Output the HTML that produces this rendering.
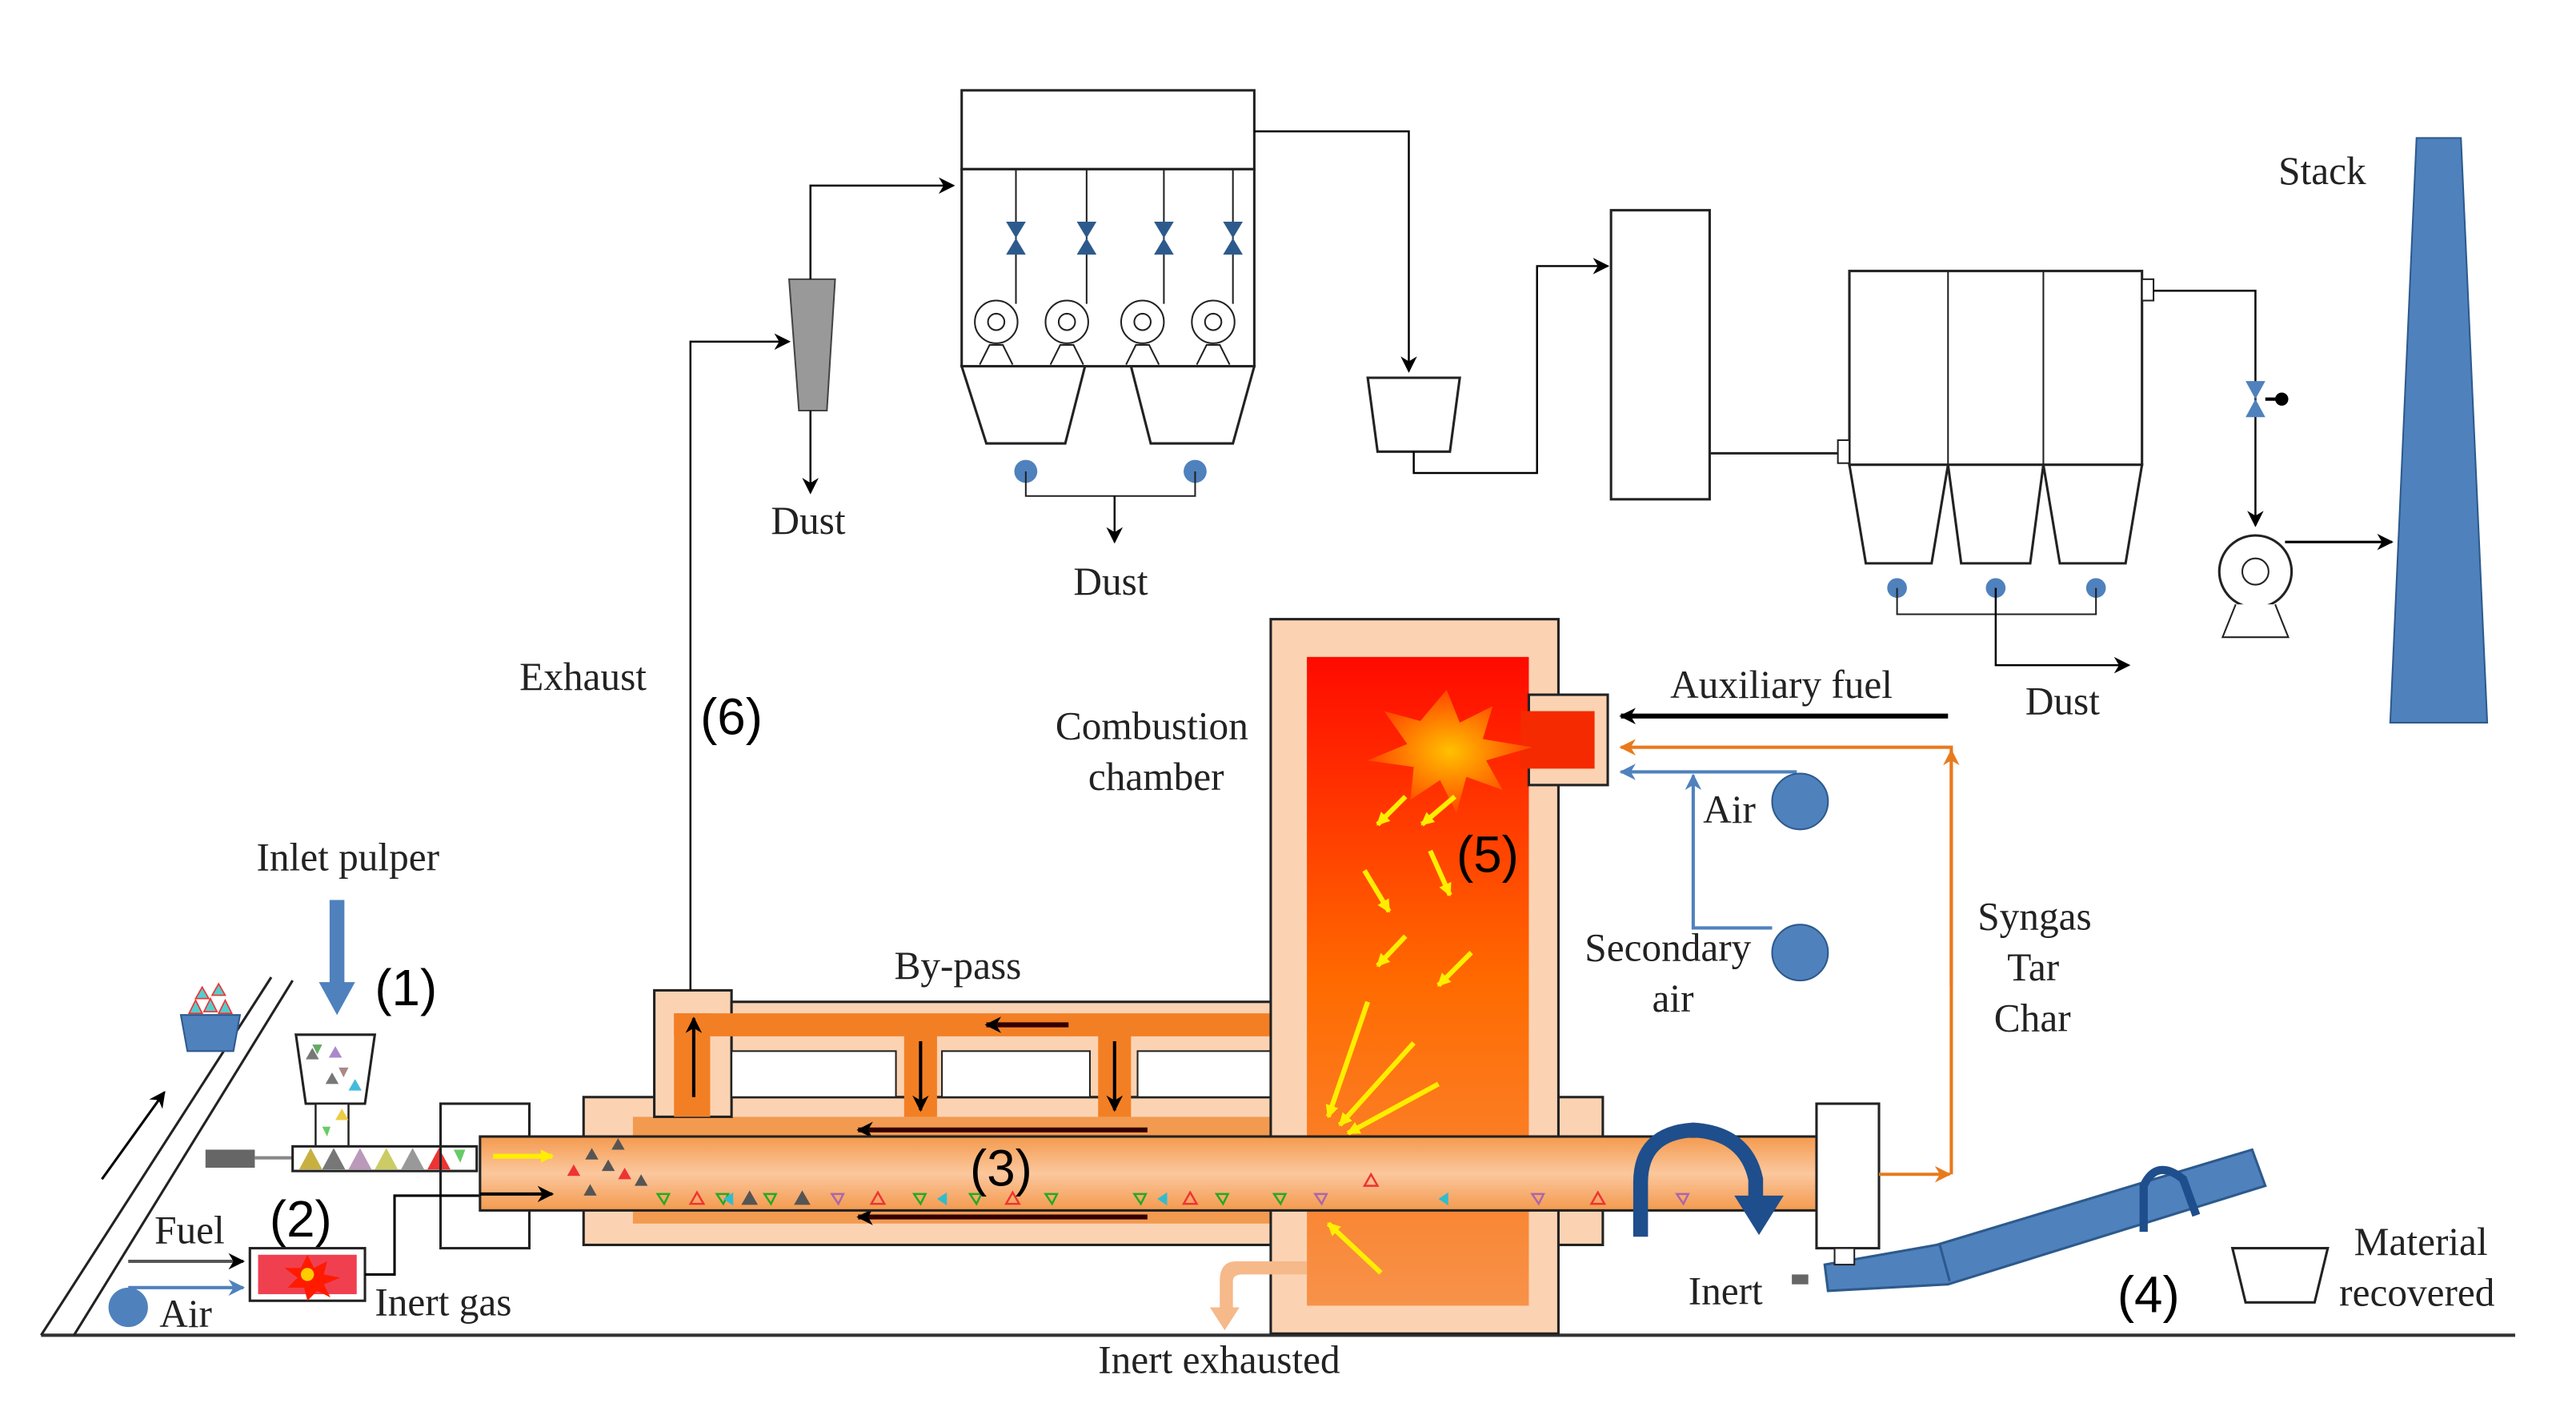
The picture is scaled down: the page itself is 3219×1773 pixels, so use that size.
<!DOCTYPE html>
<html><head><meta charset="utf-8"><style>
html,body{margin:0;padding:0;background:#fff}
svg{display:block}
text{font-family:"Liberation Serif",serif;font-size:24px;fill:#222}
.n{font-family:"Liberation Sans","DejaVu Sans",sans-serif;font-size:31px;fill:#000}
</style></head><body>
<svg width="3219" height="1773" viewBox="0 0 1567 864" preserveAspectRatio="none" xmlns="http://www.w3.org/2000/svg">
<defs>
<marker id="a" markerWidth="10" markerHeight="10" refX="9" refY="5" orient="auto" markerUnits="userSpaceOnUse"><path d="M0,0 L10,5 L0,10 L3,5z" fill="#000"/></marker>
<marker id="ao" markerWidth="10" markerHeight="10" refX="9" refY="5" orient="auto" markerUnits="userSpaceOnUse"><path d="M0,0 L10,5 L0,10 L3,5z" fill="#e87a1e"/></marker>
<marker id="ab" markerWidth="10" markerHeight="10" refX="9" refY="5" orient="auto" markerUnits="userSpaceOnUse"><path d="M0,0 L10,5 L0,10 L3,5z" fill="#4f81bd"/></marker>
<marker id="ay" markerWidth="8" markerHeight="8" refX="7" refY="4" orient="auto" markerUnits="userSpaceOnUse"><path d="M0,0 L8,4 L0,8z" fill="#ffee00"/></marker>
<linearGradient id="cc" x1="0" y1="0" x2="0" y2="1"><stop offset="0" stop-color="#ff0a00"/><stop offset="0.5" stop-color="#ff6a00"/><stop offset="1" stop-color="#f7924a"/></linearGradient>
<linearGradient id="dr" x1="0" y1="0" x2="0" y2="1"><stop offset="0" stop-color="#f49a4e"/><stop offset="0.5" stop-color="#fbc79d"/><stop offset="1" stop-color="#f49a4e"/></linearGradient>
<radialGradient id="fl"><stop offset="0" stop-color="#ffd200"/><stop offset="1" stop-color="#ff4a00"/></radialGradient>
</defs>

<line x1="25" y1="813" x2="1530" y2="813" stroke="#333" stroke-width="2"/>
<line x1="25" y1="813" x2="165" y2="595" stroke="#222" stroke-width="1.5"/>
<line x1="45" y1="813" x2="178" y2="597" stroke="#222" stroke-width="1.5"/>
<line x1="62" y1="718" x2="100" y2="665" stroke="#000" stroke-width="1.5" marker-end="url(#a)"/>
<path d="M110,618 L146,618 L142,640 L114,640z" fill="#4f81bd" stroke="#2d5a8c"/>
<path d="M115,617 l4,-8 l4,8z M124,616 l4,-8 l4,8z M133,617 l4,-8 l4,8z M119,608 l4,-7 l4,7z M129,606 l4,-7 l4,7z" fill="#5cc" stroke="#e33" stroke-width="0.8"/>
<text x="156" y="530">Inlet pulper</text>
<line x1="205" y1="548" x2="205" y2="600" stroke="#4f81bd" stroke-width="9"/>
<path d="M194,598 L216,598 L205,618z" fill="#4f81bd"/>
<text class="n" x="228" y="612">(1)</text>
<path d="M180,630 L228,630 L222,672 L186,672z" fill="#fff" stroke="#222" stroke-width="1.5"/>
<rect x="192" y="672" width="20" height="26" fill="#fff" stroke="#222" stroke-width="1.2"/>
<g fill="#6a6" stroke="none"><path d="M190,636 l6,0 l-3,6z"/><path d="M206,650 l6,0 l-3,6z" fill="#a88"/><path d="M198,660 l4,-7 l4,7z" fill="#777"/><path d="M212,664 l4,-7 l4,7z" fill="#4bd"/><path d="M196,686 l5,0 l-2,6z" fill="#6c6"/><path d="M204,682 l4,-7 l4,7z" fill="#ec4"/><path d="M186,645 l4,-7 l4,7z" fill="#777"/><path d="M200,644 l4,-7 l4,7z" fill="#a8c"/></g>
<rect x="125" y="700" width="30" height="11" fill="#666"/>
<line x1="155" y1="705" x2="178" y2="705" stroke="#888" stroke-width="2"/>
<rect x="178" y="698" width="112" height="15" fill="#fff" stroke="#222" stroke-width="1.5"/>
<g fill="#c8b040"><path d="M182,712 l7,-13 l7,13z"/><path d="M196,712 l7,-13 l7,13z" fill="#777"/><path d="M212,712 l7,-13 l7,13z" fill="#b9b"/><path d="M228,712 l7,-13 l7,13z" fill="#cc6"/><path d="M244,712 l7,-13 l7,13z" fill="#999"/><path d="M260,712 l7,-13 l7,13z" fill="#e33"/><path d="M276,700 l7,0 l-3,8z" fill="#6c6"/></g>
<rect x="268" y="672" width="54" height="88" fill="none" stroke="#222" stroke-width="1.5"/>
<text class="n" x="164" y="753">(2)</text>
<rect x="152" y="760" width="70" height="32" fill="#fff" stroke="#222" stroke-width="1.5"/>
<rect x="157" y="764" width="60" height="24" fill="#f04050"/>
<path d="M187,764 l4,8 l8,-4 l-2,8 l10,2 l-10,4 l4,8 l-8,-4 l-6,6 l-2,-8 l-10,0 l6,-6 l-8,-6 l10,0z" fill="#ff1a00"/>
<circle cx="187" cy="776" r="4" fill="#ffcc00"/>
<text x="94" y="757">Fuel</text>
<line x1="78" y1="768" x2="148" y2="768" stroke="#555" stroke-width="2" marker-end="url(#a)"/>
<line x1="78" y1="784" x2="148" y2="784" stroke="#4f81bd" stroke-width="2" marker-end="url(#ab)"/>
<circle cx="78" cy="796" r="12" fill="#4f81bd"/>
<text x="97" y="808">Air</text>
<text x="228" y="801">Inert gas</text>
<polyline points="222,776 240,776 240,728 320,728" fill="none" stroke="#000" stroke-width="1.5" marker-end="url(#a)"/>

<rect x="355" y="668" width="620" height="90" fill="#fbd3b3" stroke="#222" stroke-width="1.5"/>
<rect x="385" y="680" width="410" height="65" fill="#f29a50"/>
<rect x="398" y="603" width="47" height="77" fill="#fbd3b3" stroke="#222" stroke-width="1.5"/>
<rect x="445" y="610" width="330" height="58" fill="#fbd3b3" stroke="#222" stroke-width="1.5"/>
<rect x="445" y="640" width="100" height="28" fill="#fff" stroke="#222"/>
<rect x="573" y="640" width="90" height="28" fill="#fff" stroke="#222"/>
<rect x="692" y="640" width="83" height="28" fill="#fff" stroke="#222"/>
<rect x="410" y="617" width="385" height="14" fill="#f37f24"/>
<rect x="410" y="617" width="22" height="63" fill="#f37f24"/>
<rect x="550" y="630" width="20" height="50" fill="#f37f24"/>
<rect x="668" y="630" width="20" height="50" fill="#f37f24"/>
<line x1="422" y1="668" x2="422" y2="620" stroke="#000" stroke-width="2" marker-end="url(#a)"/>
<line x1="560" y1="634" x2="560" y2="676" stroke="#000" stroke-width="2" marker-end="url(#a)"/>
<line x1="678" y1="634" x2="678" y2="676" stroke="#000" stroke-width="2" marker-end="url(#a)"/>
<line x1="650" y1="624" x2="600" y2="624" stroke="#300" stroke-width="3" marker-end="url(#a)"/>
<line x1="698" y1="688" x2="522" y2="688" stroke="#300" stroke-width="3" marker-end="url(#a)"/>
<line x1="698" y1="741" x2="522" y2="741" stroke="#300" stroke-width="3" marker-end="url(#a)"/>
<text x="544" y="596">By-pass</text>

<rect x="773" y="377" width="175" height="435" fill="#fbd3b3" stroke="#222" stroke-width="1.5"/>
<rect x="795" y="400" width="135" height="395" fill="url(#cc)"/>
<rect x="930" y="423" width="48" height="55" fill="#fbd3b3" stroke="#222" stroke-width="1.5"/>
<rect x="925" y="433" width="45" height="35" fill="#f52a00"/>
<path d="M880,420 l8,20 l20,-10 l-6,20 l30,5 l-28,8 l10,18 l-22,-8 l-6,22 l-10,-20 l-18,12 l2,-20 l-28,-4 l24,-10 l-14,-20 l22,6z" fill="url(#fl)" opacity="0.9"/>
<g stroke="#ffee00" stroke-width="3" marker-end="url(#ay)">
<line x1="855" y1="485" x2="838" y2="502"/><line x1="885" y1="485" x2="865" y2="502"/>
<line x1="830" y1="530" x2="845" y2="555"/><line x1="870" y1="518" x2="882" y2="545"/>
<line x1="855" y1="570" x2="838" y2="588"/><line x1="895" y1="580" x2="875" y2="600"/>
<line x1="832" y1="610" x2="808" y2="680"/><line x1="860" y1="635" x2="815" y2="685"/><line x1="875" y1="660" x2="820" y2="690"/>
<line x1="840" y1="775" x2="808" y2="745"/>
</g>
<rect x="292" y="692" width="830" height="45" fill="url(#dr)" stroke="#222" stroke-width="1.5"/>
<line x1="300" y1="704" x2="336" y2="704" stroke="#ffee00" stroke-width="3" marker-end="url(#ay)"/>
<g>
<path d="M345,716 l4,-7 l4,7z" fill="#e33"/><path d="M356,706 l4,-7 l4,7z" fill="#555"/><path d="M366,713 l4,-7 l4,7z" fill="#555"/><path d="M376,718 l4,-7 l4,7z" fill="#e33"/><path d="M372,700 l4,-7 l4,7z" fill="#555"/><path d="M386,722 l4,-7 l4,7z" fill="#555"/><path d="M355,728 l4,-7 l4,7z" fill="#555"/>
</g>
<g fill="none" stroke-width="1.2">
<path d="M400,727 l7,0 l-3,6z" stroke="#2a2"/><path d="M420,733 l4,-7 l4,7z" stroke="#e33"/><path d="M436,727 l7,0 l-3,6z" stroke="#2a2"/><path d="M452,733 l4,-7 l4,7z" stroke="#555" fill="#555"/><path d="M465,727 l7,0 l-3,6z" stroke="#2a2"/><path d="M484,733 l4,-7 l4,7z" fill="#555" stroke="#555"/><path d="M506,727 l7,0 l-3,6z" stroke="#a6a"/><path d="M530,733 l4,-7 l4,7z" stroke="#e33"/><path d="M556,727 l7,0 l-3,6z" stroke="#2a2"/><path d="M590,727 l7,0 l-3,6z" stroke="#2a2"/><path d="M612,733 l4,-7 l4,7z" stroke="#e33"/><path d="M636,727 l7,0 l-3,6z" stroke="#2a2"/><path d="M690,727 l7,0 l-3,6z" stroke="#2a2"/><path d="M720,733 l4,-7 l4,7z" stroke="#e33"/><path d="M740,727 l7,0 l-3,6z" stroke="#2a2"/><path d="M775,727 l7,0 l-3,6z" stroke="#2a2"/><path d="M800,727 l7,0 l-3,6z" stroke="#a6a"/><path d="M830,722 l4,-7 l4,7z" stroke="#e33"/><path d="M932,727 l7,0 l-3,6z" stroke="#a6a"/><path d="M968,733 l4,-7 l4,7z" stroke="#e33"/><path d="M1020,727 l7,0 l-3,6z" stroke="#a6a"/>
</g>
<g fill="#3bc"><path d="M440,730 l6,-4 l0,8z"/><path d="M570,730 l6,-4 l0,8z"/><path d="M704,730 l6,-4 l0,8z"/><path d="M875,730 l6,-4 l0,8z"/></g>
<line x1="292" y1="727" x2="336" y2="727" stroke="#000" stroke-width="2" marker-end="url(#a)"/>
<text class="n" x="590" y="722">(3)</text>
<text class="n" x="886" y="531">(5)</text>
<path d="M795,768 L752,768 Q742,768 742,780 L742,796 L736,796 L745,810 L754,796 L750,796 L750,780 Q750,776 756,776 L795,776z" fill="#f6b98a"/>
<text x="668" y="836">Inert exhausted</text>
<text x="642" y="450">Combustion</text>
<text x="662" y="481">chamber</text>
<rect x="1105" y="672" width="38" height="88" fill="#fff" stroke="#222" stroke-width="1.5"/>
<path d="M998,753 L998,720 Q998,690 1030,688 Q1062,690 1068,718 L1068,730" fill="none" stroke="#1f4e8c" stroke-width="9"/>
<path d="M1055,728 L1085,728 L1070,752z" fill="#1f4e8c"/>
<path d="M1110,770 L1178,758 L1370,700 L1378,722 L1185,782 L1112,786z" fill="#4f81bd" stroke="#2d5a8c" stroke-width="1.5"/>
<line x1="1180" y1="758" x2="1186" y2="780" stroke="#2d5a8c" stroke-width="1.5"/>
<rect x="1090" y="776" width="10" height="6" fill="#666"/>
<rect x="1116" y="760" width="12" height="10" fill="#fff" stroke="#222"/>
<path d="M1304,750 L1304,722 Q1312,705 1328,718 L1336,740" fill="none" stroke="#1f4e8c" stroke-width="5"/>
<text x="1027" y="794">Inert</text>
<text class="n" x="1288" y="799">(4)</text>
<path d="M1358,760 L1416,760 L1408,793 L1366,793z" fill="#fff" stroke="#222" stroke-width="1.5"/>
<text x="1432" y="764">Material</text>
<text x="1423" y="795">recovered</text>
<line x1="1143" y1="715" x2="1186" y2="715" stroke="#e87a1e" stroke-width="2" marker-end="url(#ao)"/>
<polyline points="1187,715 1187,455 986,455" fill="none" stroke="#e87a1e" stroke-width="2" marker-end="url(#ao)"/>
<line x1="1187" y1="600" x2="1187" y2="457" stroke="#e87a1e" stroke-width="2" marker-end="url(#ao)"/>
<text x="1203" y="566">Syngas</text>
<text x="1221" y="597">Tar</text>
<text x="1213" y="628">Char</text>
<line x1="1185" y1="436" x2="986" y2="436" stroke="#000" stroke-width="3" marker-end="url(#a)"/>
<text x="1016" y="425">Auxiliary fuel</text>
<polyline points="1093,470 986,470" fill="none" stroke="#4f81bd" stroke-width="2" marker-end="url(#ab)"/>
<polyline points="1078,565 1030,565 1030,472" fill="none" stroke="#4f81bd" stroke-width="2" marker-end="url(#ab)"/>
<circle cx="1095" cy="488" r="17" fill="#4f81bd" stroke="#2d5a8c"/>
<circle cx="1095" cy="580" r="17" fill="#4f81bd" stroke="#2d5a8c"/>
<text x="1036" y="501">Air</text>
<text x="964" y="585">Secondary</text>
<text x="1005" y="616">air</text>

<polyline points="420,603 420,208 480,208" fill="none" stroke="#000" stroke-width="1.2" marker-end="url(#a)"/>
<text x="316" y="420">Exhaust</text>
<text class="n" x="426" y="447">(6)</text>
<path d="M480,170 L508,170 L503,250 L486,250z" fill="#999" stroke="#444"/>
<line x1="493" y1="250" x2="493" y2="300" stroke="#000" stroke-width="1.2" marker-end="url(#a)"/>
<text x="469" y="325">Dust</text>
<polyline points="493,170 493,113 580,113" fill="none" stroke="#000" stroke-width="1.2" marker-end="url(#a)"/>
<rect x="585" y="55" width="178" height="48" fill="#fff" stroke="#222" stroke-width="1.5"/>
<rect x="585" y="103" width="178" height="120" fill="#fff" stroke="#222" stroke-width="1.5"/>
<path d="M585,223 L660,223 L648,270 L600,270z M688,223 L763,223 L750,270 L700,270z" fill="#fff" stroke="#222" stroke-width="1.5"/>
<g stroke="#222" stroke-width="1"><line x1="618" y1="103" x2="618" y2="185"/><line x1="661" y1="103" x2="661" y2="185"/><line x1="708" y1="103" x2="708" y2="185"/><line x1="750" y1="103" x2="750" y2="185"/></g>
<g fill="#2d5a8c"><path d="M612,135 l12,0 l-12,20 l12,0z"/><path d="M655,135 l12,0 l-12,20 l12,0z"/><path d="M702,135 l12,0 l-12,20 l12,0z"/><path d="M744,135 l12,0 l-12,20 l12,0z"/></g>
<g fill="#fff" stroke="#222" stroke-width="1"><path d="M596,222 l6,-12 l8,0 l6,12"/><path d="M639,222 l6,-12 l8,0 l6,12"/><path d="M685,222 l6,-12 l8,0 l6,12"/><path d="M728,222 l6,-12 l8,0 l6,12"/><circle cx="606" cy="196" r="13"/><circle cx="606" cy="196" r="5"/><circle cx="649" cy="196" r="13"/><circle cx="649" cy="196" r="5"/><circle cx="695" cy="196" r="13"/><circle cx="695" cy="196" r="5"/><circle cx="738" cy="196" r="13"/><circle cx="738" cy="196" r="5"/></g>
<g fill="#4f81bd"><circle cx="624" cy="287" r="7"/><circle cx="727" cy="287" r="7"/></g>
<polyline points="624,287 624,302 727,302 727,287" fill="none" stroke="#222"/>
<line x1="678" y1="302" x2="678" y2="330" stroke="#000" stroke-width="1.2" marker-end="url(#a)"/>
<text x="653" y="362">Dust</text>
<polyline points="763,80 857,80 857,226" fill="none" stroke="#000" stroke-width="1.2" marker-end="url(#a)"/>
<path d="M832,230 L888,230 L882,275 L838,275z" fill="#fff" stroke="#222" stroke-width="1.5"/>
<polyline points="860,275 860,288 935,288 935,162 978,162" fill="none" stroke="#000" stroke-width="1.2" marker-end="url(#a)"/>
<rect x="980" y="128" width="60" height="176" fill="#fff" stroke="#222" stroke-width="1.5"/>
<line x1="1040" y1="276" x2="1118" y2="276" stroke="#222" stroke-width="1.5"/>
<rect x="1125" y="165" width="178" height="118" fill="#fff" stroke="#222" stroke-width="1.5"/>
<line x1="1185" y1="165" x2="1185" y2="283" stroke="#222"/><line x1="1243" y1="165" x2="1243" y2="283" stroke="#222"/>
<rect x="1118" y="268" width="7" height="14" fill="#fff" stroke="#222"/>
<rect x="1303" y="170" width="7" height="13" fill="#fff" stroke="#222"/>
<path d="M1125,283 L1185,283 L1175,343 L1135,343z M1185,283 L1243,283 L1235,343 L1193,343z M1243,283 L1303,283 L1293,343 L1253,343z" fill="#fff" stroke="#222" stroke-width="1.5"/>
<g fill="#4f81bd"><circle cx="1154" cy="358" r="6"/><circle cx="1214" cy="358" r="6"/><circle cx="1275" cy="358" r="6"/></g>
<polyline points="1154,358 1154,374 1275,374 1275,358" fill="none" stroke="#222"/>
<polyline points="1214,358 1214,405 1295,405" fill="none" stroke="#000" stroke-width="1.2" marker-end="url(#a)"/>
<text x="1232" y="435">Dust</text>
<polyline points="1310,177 1372,177 1372,320" fill="none" stroke="#000" stroke-width="1.2" marker-end="url(#a)"/>
<path d="M1366,232 l12,0 l-12,22 l12,0z" fill="#4f81bd"/>
<path d="M1378,243 l8,0" stroke="#000" stroke-width="2"/><circle cx="1388" cy="243" r="4" fill="#000"/>
<circle cx="1372" cy="348" r="22" fill="#fff" stroke="#222" stroke-width="1.5"/>
<circle cx="1372" cy="348" r="8" fill="#fff" stroke="#222"/>
<path d="M1360,368 L1352,388 L1392,388 L1384,368" fill="#fff" stroke="#222"/>
<line x1="1390" y1="330" x2="1455" y2="330" stroke="#000" stroke-width="1.5" marker-end="url(#a)"/>
<path d="M1470,84 L1497,84 L1513,440 L1454,440z" fill="#4f81bd" stroke="#2d5a8c"/>
<text x="1386" y="112">Stack</text>
</svg>
</body></html>
